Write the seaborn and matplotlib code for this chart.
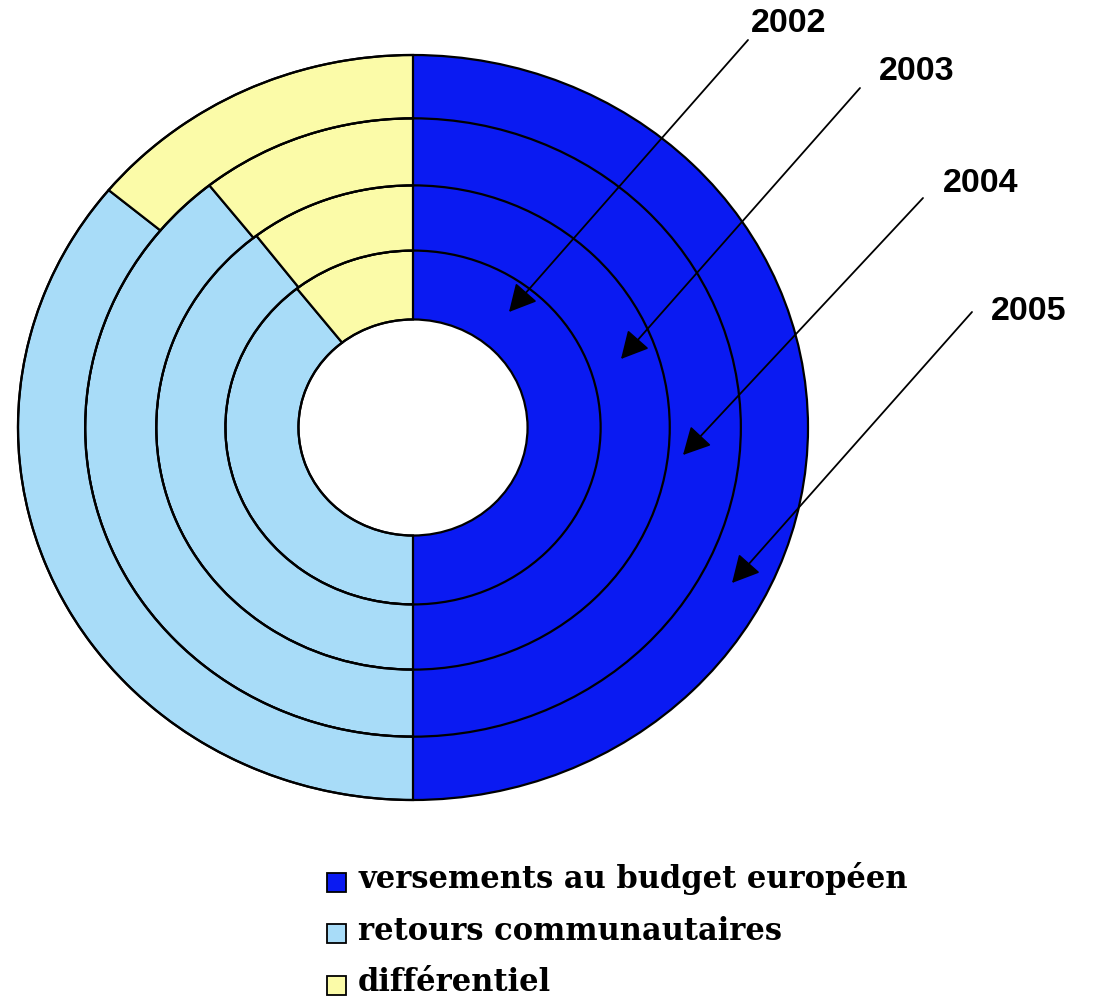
import matplotlib
matplotlib.use("Agg")
import matplotlib.pyplot as plt
import seaborn as sns
from matplotlib.patches import Circle, Rectangle
import numpy as np

# ---- data (Md€, read as proportions from the rings) ----
years = ["2002", "2003", "2004", "2005"]
versements = [14.6, 15.8, 16.4, 17.5]
retours = [11.5, 12.5, 12.9, 12.6]
differentiel = [3.1, 3.3, 3.5, 4.9]
series_labels = ["versements au budget européen", "retours communautaires", "différentiel"]
colors = ["#0A1AF2", "#A8DCF8", "#FBFBA8"]

# ring radii (inner 2002 -> outer 2005)
ring_outer = [0.475, 0.65, 0.83, 1.0]
hole = 0.29

sns.set_theme(style="white")
plt.rcParams["font.family"] = ["DejaVu Sans"]

W, H = 1093, 1001
fig = plt.figure(figsize=(W / 100, H / 100), dpi=100)

cx, cy, rx, ry = 413, 427.5, 395, 372.5
ax = fig.add_axes([(cx - rx) / W, 1 - (cy + ry) / H, 2 * rx / W, 2 * ry / H])

inner = [hole] + ring_outer[:-1]
edge_lw = 1.6
for i, yr in enumerate(years):
    vals = [versements[i], retours[i], differentiel[i]]
    wedges, _ = ax.pie(vals, radius=ring_outer[i], startangle=90, counterclock=False,
                       colors=colors,
                       wedgeprops=dict(width=ring_outer[i] - inner[i], edgecolor="black",
                                       linewidth=edge_lw, clip_on=False))
    wedges[0].set_linewidth(0)
    wedges[0].set_zorder(0.5)

for r in [hole] + ring_outer:
    ax.add_patch(Circle((0, 0), r, fill=False, edgecolor="black", linewidth=edge_lw,
                        zorder=5, clip_on=False))

ax.set_aspect("auto")
ax.set_xlim(-1, 1)
ax.set_ylim(-1, 1)
ax.axis("off")

def fpx(x, y):
    return (x / W, 1 - y / H)

# year labels with arrows
label_pos = [(751, 23), (879, 71), (943, 183), (991, 311)]
arrow_tail = [(748, 40), (860, 88), (923, 198), (972, 312)]
arrow_tip = [(509, 312), (621, 359), (683, 455), (732, 583)]
for yr, lp, tl, tp in zip(years, label_pos, arrow_tail, arrow_tip):
    fig.text(*fpx(*lp), yr, ha="left", va="center", fontsize=24.5, fontweight="bold",
             family=["Liberation Sans", "DejaVu Sans"], color="black")
    ax.annotate("", xy=fpx(*tp), xytext=fpx(*tl), xycoords="figure fraction",
                textcoords="figure fraction",
                arrowprops=dict(arrowstyle="-|>,head_length=1.05,head_width=0.55",
                                mutation_scale=16, color="black", lw=1.3,
                                shrinkA=0, shrinkB=0))

# legend
baselines = [888, 939.5, 991]
for lab, col, bl in zip(series_labels, colors, baselines):
    x0, y0 = fpx(327, bl - 6 + 9.5)
    fig.patches.append(Rectangle((x0, y0), 19 / W, 19 / H, transform=fig.transFigure,
                                 facecolor=col, edgecolor="black", linewidth=1.3))
    fig.text(*fpx(358, bl), lab, ha="left", va="baseline", fontsize=22,
             fontweight="bold", family=["DejaVu Serif"], color="black")

fig.savefig("out.png", dpi=100, facecolor="white")
